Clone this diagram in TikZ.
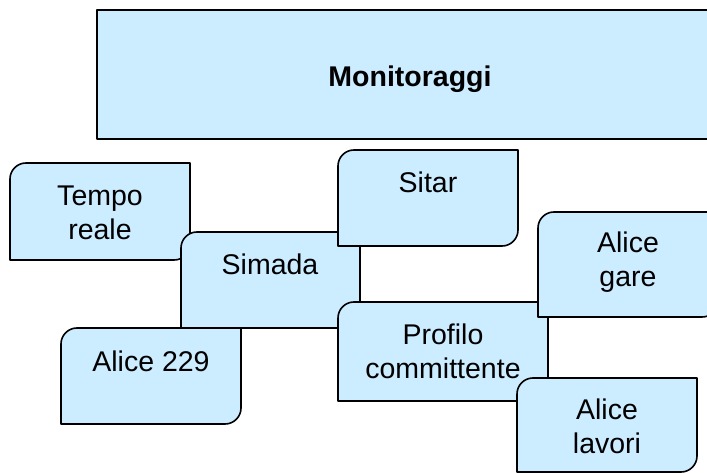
\documentclass[tikz,border=0pt]{standalone}
\usepackage{fontspec}
\setmainfont{Liberation Sans}
\usepackage{xcolor}
\usepackage{tikz}

\definecolor{cardblue}{RGB}{204,236,255}
\newcommand{\rc}{16}
% card with rounded top left and bottom right corners: left, top, right, bottom
\newcommand{\cardbox}[4]{%
    \filldraw[cardline] (#1,-#4) -- (#1,-#2-\rc) arc[start angle=180,end angle=90,radius=\rc]
        -- (#3,-#2) -- (#3,-#4+\rc) arc[start angle=0,end angle=-90,radius=\rc] -- cycle;}

\begin{document}
\begin{tikzpicture}[x=1pt,y=1pt,
        cardline/.style={fill=cardblue,draw=black,line width=1.6pt,line join=round},
        cardtext/.style={align=center,anchor=base,inner sep=0pt,
            font=\fontsize{28.5}{34}\selectfont}
        ]
        \clip (0,0) rectangle (707,-473);
        % Top
        \filldraw[cardline] (97,-10) rectangle (720,-139);
        \node[cardtext,font=\fontsize{28.5}{34}\selectfont\bfseries] (monitor) at (410,-87) {Monitoraggi};
        % cards, back to front
        \cardbox{10}{163}{190}{260}
        \node[cardtext] (tempo) at (100,-240) {Tempo\\reale};
        \cardbox{181}{232}{360}{328}
        \node[cardtext] (simada) at (270,-275) {Simada};
        \cardbox{338}{150}{518}{246}
        \node[cardtext] (sitar) at (428,-193) {Sitar};
        \cardbox{61}{328}{241}{424}
        \node[cardtext] (alice229) at (151,-371) {Alice 229};
        \cardbox{338}{302}{548}{401}
        \node[cardtext] (profilo) at (443,-378) {Profilo\\committente};
        \cardbox{538}{212}{718}{317}
        \node[cardtext] (alicegare) at (628,-287) {Alice\\gare};
        \cardbox{517}{378}{697}{472}
        \node[cardtext] (alicelavori) at (607,-453) {Alice\\lavori};
\end{tikzpicture}
\end{document}
